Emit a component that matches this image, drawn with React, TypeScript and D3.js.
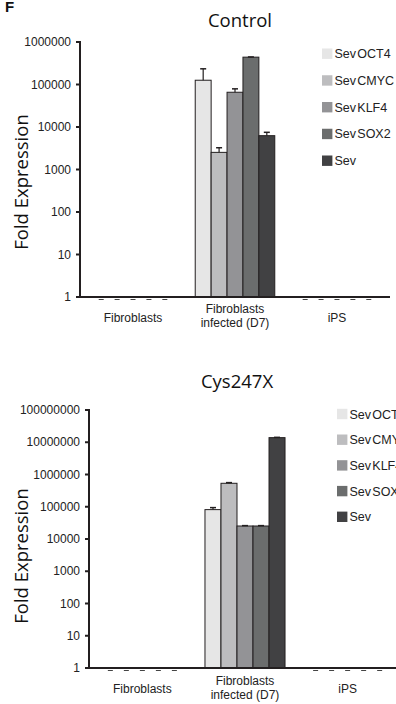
import React from "react";
import * as d3 from "d3";

const groups = ["Fibroblasts", "Fibroblasts infected (D7)", "iPS"];
const groupLabelLines = [["Fibroblasts"], ["Fibroblasts", "infected (D7)"], ["iPS"]];
const series = ["Sev OCT4", "Sev CMYC", "Sev KLF4", "Sev SOX2", "Sev"];
const seriesColors = ["#e6e6e6", "#bdbdbf", "#939396", "#6b6d6d", "#414143"];

// Control panel: values per group (rows) per series (cols)
const controlValues = [
  [1, 1, 1, 1, 1],
  [126000, 2530, 65700, 440000, 6250],
  [1, 1, 1, 1, 1],
];
const controlErrors = [
  [0, 0, 0, 0, 0],
  [108000, 720, 13300, 5000, 1250],
  [0, 0, 0, 0, 0],
];
const controlTicks = [1, 10, 100, 1000, 10000, 100000, 1000000];

// Cys247X panel
const mutantValues = [
  [1, 1, 1, 1, 1],
  [81500, 534000, 25300, 25300, 13900000],
  [1, 1, 1, 1, 1],
];
const mutantErrors = [
  [0, 0, 0, 0, 0],
  [12500, 26000, 700, 700, 300000],
  [0, 0, 0, 0, 0],
];
const mutantTicks = [1, 10, 100, 1000, 10000, 100000, 1000000, 10000000, 100000000];

const ARIAL = "'Liberation Sans', Arial, sans-serif";
const HUMAN = "'Open Sans', 'Noto Sans', sans-serif";

type PanelProps = {
  title: string;
  titleX: number;
  titleY: number;
  values: number[][];
  errors: number[][];
  ticks: number[];
  xRange: [number, number];
  yRange: [number, number];
  yLabelCenter: number;
  legendX: number;
  legendY0: number;
  legendStep: number;
  labelBaseline: number;
  twoLineBaselines: [number, number];
};

function Panel(p: PanelProps) {
  const x = d3.scaleBand<string>().domain(groups).range(p.xRange).paddingInner(0.22).paddingOuter(0.13);
  const xs = d3.scaleBand<string>().domain(series).range([0, x.bandwidth()]);
  const y = d3
    .scaleLog()
    .domain([1, p.ticks[p.ticks.length - 1]])
    .range(p.yRange);
  const y0 = p.yRange[0];
  const axisX = p.xRange[0];

  return (
    <g>
      <text x={p.titleX} y={p.titleY} textAnchor="middle" fontFamily={HUMAN} fontSize={18.5} fill="#111">
        {p.title}
      </text>
      <text
        transform={`translate(20,${p.yLabelCenter}) rotate(-90)`}
        textAnchor="middle"
        dominantBaseline="central"
        fontFamily={HUMAN}
        fontSize={18.5}
        fill="#111"
      >
        Fold Expression
      </text>
      {/* bars */}
      {groups.map((g, gi) =>
        series.map((s, si) => {
          const v = p.values[gi][si];
          const bx = (x(g) as number) + (xs(s) as number);
          const bw = xs.bandwidth();
          const top = y(v);
          const cx = bx + bw / 2;
          if (v <= 1) {
            return (
              <line key={g + s} x1={cx - 2.5} x2={cx + 2.5} y1={y0 + 2.5} y2={y0 + 2.5} stroke="#444" strokeWidth={1} />
            );
          }
          const e = p.errors[gi][si];
          const et = y(v + e);
          return (
            <g key={g + s}>
              <rect x={bx} y={top} width={bw} height={y0 - top} fill={seriesColors[si]} stroke="#231f20" strokeWidth={1} />
              <line x1={cx} x2={cx} y1={top} y2={et} stroke="#231f20" strokeWidth={1.2} />
              <line x1={cx - 3} x2={cx + 3} y1={et} y2={et} stroke="#231f20" strokeWidth={1.5} />
            </g>
          );
        })
      )}
      {/* y axis */}
      <line x1={axisX} x2={axisX} y1={p.yRange[1] - 1} y2={y0 + 1} stroke="#231f20" strokeWidth={2} />
      {p.ticks.map((t) => (
        <g key={t}>
          <line x1={axisX - 4} x2={axisX} y1={y(t)} y2={y(t)} stroke="#231f20" strokeWidth={2} />
          <text x={axisX - 9} y={y(t)} dy="0.35em" textAnchor="end" fontFamily={ARIAL} fontSize={12} fill="#222">
            {String(t)}
          </text>
        </g>
      ))}
      {/* x axis */}
      <line x1={axisX} x2={p.xRange[1]} y1={y0} y2={y0} stroke="#231f20" strokeWidth={2} />
      {groups.map((g, gi) => {
        const cx = (x(g) as number) + x.bandwidth() / 2;
        const lines = groupLabelLines[gi];
        if (lines.length === 1) {
          return (
            <text key={g} x={cx} y={p.labelBaseline} textAnchor="middle" fontFamily={ARIAL} fontSize={12} fill="#222">
              {lines[0]}
            </text>
          );
        }
        return (
          <text key={g} textAnchor="middle" fontFamily={ARIAL} fontSize={12} fill="#222">
            <tspan x={cx} y={p.twoLineBaselines[0]}>
              {lines[0]}
            </tspan>
            <tspan x={cx} y={p.twoLineBaselines[1]}>
              {lines[1]}
            </tspan>
          </text>
        );
      })}
      {/* legend */}
      {series.map((s, si) => {
        const cy = p.legendY0 + si * p.legendStep;
        return (
          <g key={s}>
            <rect x={p.legendX} y={cy - 5.2} width={10.4} height={10.4} fill={seriesColors[si]} />
            <text
              x={p.legendX + 12.5}
              y={cy}
              dy="0.36em"
              fontFamily={ARIAL}
              fontSize={12.5}
              wordSpacing={-2.2}
              fill="#222"
            >
              {s}
            </text>
          </g>
        );
      })}
    </g>
  );
}

export default function App() {
  return (
    <svg width={396} height={704} style={{ position: "absolute", left: 0, top: 0, background: "#fff" }}>
      <rect width={396} height={704} fill="#fff" />
      <text x={5} y={12} fontFamily={ARIAL} fontWeight="bold" fontSize={15} fill="#111">
        F
      </text>
      <Panel
        title="Control"
        titleX={240}
        titleY={27}
        values={controlValues}
        errors={controlErrors}
        ticks={controlTicks}
        xRange={[80, 390]}
        yRange={[297, 42]}
        yLabelCenter={182}
        legendX={322}
        legendY0={53.7}
        legendStep={26.75}
        labelBaseline={322}
        twoLineBaselines={[313, 327]}
      />
      <Panel
        title="Cys247X"
        titleX={237}
        titleY={388}
        values={mutantValues}
        errors={mutantErrors}
        ticks={mutantTicks}
        xRange={[89, 401]}
        yRange={[668, 410]}
        yLabelCenter={556}
        legendX={337}
        legendY0={414}
        legendStep={25.7}
        labelBaseline={693}
        twoLineBaselines={[685, 699]}
      />
    </svg>
  );
}
